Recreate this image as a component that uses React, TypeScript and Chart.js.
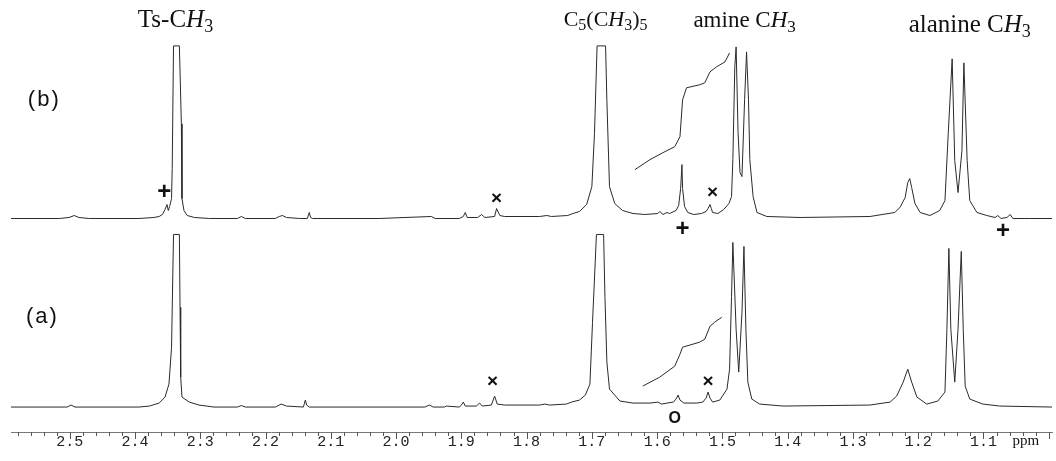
import React, { useEffect, useRef } from 'react';
import { Chart, registerables } from 'chart.js';

Chart.register(...registerables);

// ---- axis range (ppm, reversed) ----
const PPM_LEFT = 2.59;
const PPM_RIGHT = 0.995;
const Y_TOP = 433; // arbitrary intensity units
const CLIP_LEVEL = 173; // plotted peaks are cut off at this height

// vertical offsets of the two stacked spectra
const OFFSET_A = 25;
const OFFSET_B = 214;

// ---- spectrum (b), upper trace ----
const B_PPM = [2.590,2.516,2.501,2.493,2.486,2.470,2.394,2.371,2.363,2.358,
  2.354,2.351,2.349,2.347,2.344,2.343,2.341,2.332,2.329,2.328,
  2.325,2.320,2.309,2.286,2.243,2.237,2.231,2.185,2.179,2.174,
  2.168,2.148,2.136,2.133,2.131,2.128,2.026,1.946,1.940,1.903,
  1.897,1.894,1.891,1.875,1.869,1.864,1.849,1.846,1.841,1.834,
  1.780,1.769,1.762,1.737,1.729,1.719,1.708,1.700,1.696,1.692,
  1.679,1.677,1.673,1.665,1.653,1.637,1.619,1.599,1.596,1.591,
  1.585,1.581,1.571,1.567,1.564,1.562,1.561,1.558,1.553,1.544,
  1.532,1.525,1.522,1.519,1.517,1.515,1.507,1.498,1.490,1.486,
  1.484,1.481,1.479,1.476,1.473,1.470,1.466,1.463,1.460,1.458,
  1.453,1.447,1.432,1.381,1.274,1.236,1.228,1.220,1.216,1.213,
  1.210,1.205,1.197,1.182,1.167,1.159,1.154,1.148,1.144,1.139,
  1.133,1.130,1.125,1.121,1.110,1.095,1.082,1.078,1.073,1.064,
  1.059,1.055,1.029,0.995];
const B_INT = [0,0,1,3,1,0,0,1,2,4,
  9,14,8,12,20,50,173,173,95,20,
  8,3,1,0,0,2,0,0,2,3,
  1,0,0,6,1,0,0,2,0,0,
  2,6,1,1,4,1,2,10,3,2,
  2,3,2,3,5,7,14,32,85,173,
  173,118,32,15,8,5,4,5,7,4,
  6,5,8,13,30,54,30,12,6,4,
  5,7,10,14,10,6,5,9,15,22,
  59,152,172,86,46,42,119,167,119,59,
  22,6,2,1,2,6,11,21,36,40,
  31,15,6,3,8,18,85,160,58,26,
  68,156,58,18,6,3,1,3,0,1,
  4,0,0,0];

// ---- spectrum (a), lower trace ----
const A_PPM = [2.590,2.504,2.498,2.492,2.394,2.378,2.363,2.354,2.348,2.344,
  2.341,2.332,2.331,2.330,2.328,2.317,2.302,2.279,2.243,2.237,
  2.231,2.185,2.176,2.168,2.142,2.139,2.137,2.133,1.956,1.949,
  1.943,1.926,1.923,1.903,1.900,1.897,1.894,1.877,1.872,1.868,
  1.854,1.849,1.845,1.834,1.780,1.772,1.765,1.739,1.731,1.719,
  1.710,1.703,1.699,1.693,1.682,1.680,1.677,1.673,1.657,1.637,
  1.611,1.599,1.593,1.585,1.575,1.570,1.568,1.565,1.559,1.539,
  1.530,1.525,1.522,1.519,1.515,1.504,1.493,1.489,1.486,1.484,
  1.479,1.475,1.470,1.467,1.464,1.461,1.455,1.443,1.407,1.274,
  1.243,1.233,1.223,1.216,1.210,1.202,1.187,1.170,1.159,1.156,
  1.153,1.150,1.144,1.139,1.134,1.131,1.128,1.121,1.101,1.075,
  0.995];
const A_INT = [0,0,2,0,0,1,4,10,23,60,
  173,173,100,30,10,5,2,0,0,1.5,
  0,0,3,1,0,7,2,0,0,2,
  0,0,1,0,2,5,1,1,4,1,
  2,11,3,2,2,3,2,3,5,7,
  12,23,85,173,173,111,45,18,6,4,
  4,5,3,4,5,9,12,7,4,4,
  5,9,15,9,5,7,18,38,111,165,
  78,35,95,161,78,25,8,3,1,2,
  5,11,25,38,25,10,3,6,15,78,
  159,78,25,78,156,78,21,8,3,1,
  0];

// ---- integral traces ----
const INT_B_PPM = [1.634,1.611,1.591,1.573,1.565,1.561,1.555,1.535,1.527,1.519,1.509,1.496,1.489];
const INT_B_VAL = [49,59,66,72,82,119,131,134,136,147,152,157,166];
const INT_A_PPM = [1.622,1.596,1.573,1.565,1.561,1.535,1.527,1.519,1.512,1.501];
const INT_A_VAL = [21,30,41,53,60,65,68,81,85,90];

// ---- annotation text ----
type Part = { t: string; it?: boolean; sub?: boolean };
const PEAK_LABELS: { parts: Part[]; ppm: number; y: number; size: number }[] = [
  { parts: [{ t: 'Ts-C' }, { t: 'H', it: true }, { t: '3', sub: true }], ppm: 2.338, y: 406, size: 25 },
  { parts: [{ t: 'C' }, { t: '5', sub: true }, { t: '(C' }, { t: 'H', it: true }, { t: '3', sub: true }, { t: ')' }, { t: '5', sub: true }], ppm: 1.679, y: 407, size: 22 },
  { parts: [{ t: 'amine C' }, { t: 'H', it: true }, { t: '3', sub: true }], ppm: 1.466, y: 406, size: 23 },
  { parts: [{ t: 'alanine C' }, { t: 'H', it: true }, { t: '3', sub: true }], ppm: 1.121, y: 401, size: 25 },
];
const TRACE_LABELS = [
  { text: '(b)', ppm: 2.539, y: 333 },
  { text: '(a)', ppm: 2.542, y: 115 },
];
const MARKERS = [
  { text: '+', ppm: 2.355, y: 240 },
  { text: '\u00d7', ppm: 1.846, y: 234 },
  { text: '+', ppm: 1.561, y: 203 },
  { text: '\u00d7', ppm: 1.515, y: 240 },
  { text: '+', ppm: 1.070, y: 201 },
  { text: '\u00d7', ppm: 1.852, y: 50 },
  { text: 'O', ppm: 1.573, y: 13 },
  { text: '\u00d7', ppm: 1.522, y: 50 },
];
const UNIT_LABEL = { text: 'ppm', ppm: 1.035 };

const isMajor = (v: number) => Math.abs(v * 10 - Math.round(v * 10)) < 1e-6;

function drawRich(ctx: CanvasRenderingContext2D, parts: Part[], cx: number, by: number, size: number) {
  const fontFor = (p: Part) =>
    `${p.it ? 'italic ' : ''}${p.sub ? Math.round(size * 0.72) : size}px "Liberation Serif", "Times New Roman", serif`;
  let w = 0;
  parts.forEach((p) => { ctx.font = fontFor(p); w += ctx.measureText(p.t).width; });
  let x = cx - w / 2;
  ctx.textAlign = 'left';
  ctx.textBaseline = 'alphabetic';
  parts.forEach((p) => {
    ctx.font = fontFor(p);
    ctx.fillText(p.t, x, by + (p.sub ? size * 0.2 : 0));
    x += ctx.measureText(p.t).width;
  });
}

const overlayPlugin = {
  id: 'nmrOverlay',
  afterDraw(chart: any) {
    const { ctx, chartArea } = chart;
    const xs = chart.scales.x;
    const ys = chart.scales.y;
    ctx.save();
    // axis tick marks
    ctx.strokeStyle = '#555';
    ctx.lineWidth = 1;
    xs.ticks.forEach((t: any) => {
      const px = Math.round(xs.getPixelForValue(t.value)) + 0.5;
      const len = isMajor(t.value) ? 7 : 4;
      ctx.beginPath();
      ctx.moveTo(px, chartArea.bottom);
      ctx.lineTo(px, chartArea.bottom + len);
      ctx.stroke();
    });
    ctx.fillStyle = '#111';
    // peak labels
    PEAK_LABELS.forEach((l) => drawRich(ctx, l.parts, xs.getPixelForValue(l.ppm), ys.getPixelForValue(l.y), l.size));
    // trace labels
    ctx.textAlign = 'center';
    ctx.textBaseline = 'middle';
    ctx.font = '22px "Liberation Sans", Arial, sans-serif';
    try { (ctx as any).letterSpacing = '2px'; } catch (e) { /* ignore */ }
    TRACE_LABELS.forEach((l) => ctx.fillText(l.text, xs.getPixelForValue(l.ppm), ys.getPixelForValue(l.y)));
    try { (ctx as any).letterSpacing = '0px'; } catch (e) { /* ignore */ }
    // markers
    MARKERS.forEach((m) => {
      if (m.text === '+') ctx.font = 'bold 24px "Liberation Sans", Arial, sans-serif';
      else if (m.text === 'O') ctx.font = 'bold 16px "Liberation Sans", Arial, sans-serif';
      else ctx.font = 'bold 19px "Liberation Sans", Arial, sans-serif';
      ctx.fillText(m.text, xs.getPixelForValue(m.ppm), ys.getPixelForValue(m.y));
    });
    // unit label
    ctx.font = '15px "Liberation Serif", serif';
    ctx.fillText(UNIT_LABEL.text, xs.getPixelForValue(UNIT_LABEL.ppm), chartArea.bottom + 9);
    ctx.restore();
  },
};

const toXY = (ppm: number[], vals: number[], off: number) =>
  ppm.map((p, i) => ({ x: p, y: Math.min(vals[i], CLIP_LEVEL) + off }));

export default function App() {
  const ref = useRef<HTMLCanvasElement>(null);
  useEffect(() => {
    if (!ref.current) return;
    const lineStyle = { borderColor: '#2a2a2a', borderWidth: 1, pointRadius: 0, tension: 0, fill: false };
    const chart = new Chart(ref.current, {
      type: 'line',
      data: {
        datasets: [
          { label: '(b)', data: toXY(B_PPM, B_INT, OFFSET_B), ...lineStyle },
          { label: '(a)', data: toXY(A_PPM, A_INT, OFFSET_A), ...lineStyle },
          { label: 'integral (b)', data: toXY(INT_B_PPM, INT_B_VAL, OFFSET_B), ...lineStyle },
          { label: 'integral (a)', data: toXY(INT_A_PPM, INT_A_VAL, OFFSET_A), ...lineStyle },
        ],
      },
      options: {
        animation: false,
        responsive: false,
        maintainAspectRatio: false,
        layout: { padding: { left: 11, right: 4, top: 0, bottom: 8 } },
        plugins: { legend: { display: false }, tooltip: { enabled: false } },
        scales: {
          x: {
            type: 'linear',
            reverse: true,
            min: PPM_RIGHT,
            max: PPM_LEFT,
            afterBuildTicks: (scale: any) => {
              const ticks: { value: number }[] = [];
              for (let k = Math.ceil(PPM_RIGHT * 50); k <= Math.floor(PPM_LEFT * 50); k++) ticks.push({ value: k / 50 });
              scale.ticks = ticks;
            },
            grid: { drawOnChartArea: false, drawTicks: false },
            border: { display: true, color: '#777', width: 1 },
            ticks: {
              autoSkip: false,
              maxRotation: 0,
              padding: 3,
              color: '#222',
              font: { family: '"Liberation Mono", "DejaVu Sans Mono", monospace', size: 15, lineHeight: 1 },
              callback: (v: any) => {
                const n = Number(v);
                return isMajor(n) && n > 1.05 && n < 2.55 ? n.toFixed(1) : '';
              },
            },
          },
          y: { type: 'linear', display: false, min: 0, max: Y_TOP },
        },
      },
      plugins: [overlayPlugin],
    } as any);
    return () => chart.destroy();
  }, []);
  return (
    <div style={{ position: 'fixed', left: 0, top: 0, width: 1056, height: 461, background: '#fff' }}>
      <canvas ref={ref} width={1056} height={461} style={{ display: 'block' }} />
    </div>
  );
}
